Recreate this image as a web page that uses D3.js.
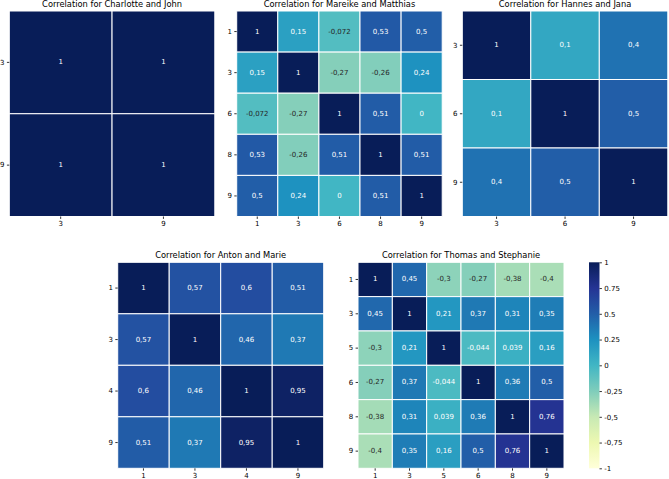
<!DOCTYPE html>
<html lang="en">
<head>
  <meta charset="UTF-8" />
  <title>Correlation heatmaps</title>
  <script src="https://d3js.org/d3.v7.min.js"></script>
  <style>
    body { margin: 0; background: #fff; }
    svg { display: block; font-family: "DejaVu Sans", sans-serif; }
    .title { font-size: 8.3px; text-anchor: middle; fill: #000; }
    .cell-label { font-size: 7px; text-anchor: middle; dominant-baseline: central; }
    .axis text { font-family: "DejaVu Sans", sans-serif; font-size: 7px; fill: #000; }
    .axis line { stroke: #000; stroke-width: 0.8px; }
  </style>
</head>
<body>
  <script>
    // color map (YlGnBu, 9 steps) and its value range
    const cmapColors = ["#ffffd9", "#edf8b1", "#c7e9b4", "#7fcdbb", "#41b6c4", "#1d91c0", "#225ea8", "#253494", "#081d58"];
    const vmin = -1, vmax = 1;

    // colorbar ticks
    const cbTicks = [1, 0.75, 0.5, 0.25, 0, -0.25, -0.5, -0.75, -1];
    const cbLabels = ["1", "0.75", "0.5", "0.25", "0", "-0,25", "-0,5", "-0,75", "-1"];

    // data per pair
    const titleCJ = "Correlation for Charlotte and John";
    const labelsCJ = [3, 9];
    const corrCJ = [
      [1, 1],
      [1, 1]
    ];

    const titleMM = "Correlation for Mareike and Matthias";
    const labelsMM = [1, 3, 6, 8, 9];
    const corrMM = [
      [1, 0.15, -0.072, 0.53, 0.5],
      [0.15, 1, -0.27, -0.26, 0.24],
      [-0.072, -0.27, 1, 0.51, 0],
      [0.53, -0.26, 0.51, 1, 0.51],
      [0.5, 0.24, 0, 0.51, 1]
    ];

    const titleHJ = "Correlation for Hannes and Jana";
    const labelsHJ = [3, 6, 9];
    const corrHJ = [
      [1, 0.1, 0.4],
      [0.1, 1, 0.5],
      [0.4, 0.5, 1]
    ];

    const titleAM = "Correlation for Anton and Marie";
    const labelsAM = [1, 3, 4, 9];
    const corrAM = [
      [1, 0.57, 0.6, 0.51],
      [0.57, 1, 0.46, 0.37],
      [0.6, 0.46, 1, 0.95],
      [0.51, 0.37, 0.95, 1]
    ];

    const titleTS = "Correlation for Thomas and Stephanie";
    const labelsTS = [1, 3, 5, 6, 8, 9];
    const corrTS = [
      [1, 0.45, -0.3, -0.27, -0.38, -0.4],
      [0.45, 1, 0.21, 0.37, 0.31, 0.35],
      [-0.3, 0.21, 1, -0.044, 0.039, 0.16],
      [-0.27, 0.37, -0.044, 1, 0.36, 0.5],
      [-0.38, 0.31, 0.039, 0.36, 1, 0.76],
      [-0.4, 0.35, 0.16, 0.5, 0.76, 1]
    ];

    const width = 669, height = 479;

    // panel placement
    const panels = [
      { title: titleCJ, labels: labelsCJ, values: corrCJ, x: 9.3, y: 11, size: 205.5 },
      { title: titleMM, labels: labelsMM, values: corrMM, x: 236.7, y: 11, size: 205.5 },
      { title: titleHJ, labels: labelsHJ, values: corrHJ, x: 462.3, y: 11, size: 205.5 },
      { title: titleAM, labels: labelsAM, values: corrAM, x: 117.7, y: 262.3, size: 206 },
      { title: titleTS, labels: labelsTS, values: corrTS, x: 358, y: 262.3, size: 206 }
    ];

    const cbar = { x: 589, y: 262.3, w: 10.5, h: 206 };

    const color = d3.scaleLinear()
      .domain(d3.range(cmapColors.length).map(i => vmin + i * (vmax - vmin) / (cmapColors.length - 1)))
      .range(cmapColors)
      .interpolate(d3.interpolateRgb)
      .clamp(true);

    const fmt = d3.formatLocale({ decimal: ",", thousands: ".", grouping: [3], currency: ["", ""], minus: "-" }).format(".2~g");

    // seaborn style text colour choice
    function luminance(c) {
      const rgb = d3.rgb(c);
      const ch = [rgb.r, rgb.g, rgb.b].map(v => {
        v /= 255;
        return v <= 0.03928 ? v / 12.92 : Math.pow((v + 0.055) / 1.055, 2.4);
      });
      return 0.2126 * ch[0] + 0.7152 * ch[1] + 0.0722 * ch[2];
    }

    const svg = d3.select("body").append("svg")
      .attr("width", width)
      .attr("height", height);

    panels.forEach(p => {
      const g = svg.append("g").attr("transform", `translate(${p.x},${p.y})`);
      const xs = d3.scaleBand().domain(p.labels).range([0, p.size]);
      const ys = d3.scaleBand().domain(p.labels).range([0, p.size]);

      const cells = [];
      p.values.forEach((row, r) => row.forEach((v, c) => cells.push({ r, c, v })));

      g.selectAll("rect.cell")
        .data(cells)
        .enter()
        .append("rect")
        .attr("class", "cell")
        .attr("x", d => xs(p.labels[d.c]))
        .attr("y", d => ys(p.labels[d.r]))
        .attr("width", xs.bandwidth())
        .attr("height", ys.bandwidth())
        .attr("fill", d => color(d.v))
        .attr("stroke", "#fff")
        .attr("stroke-width", 1);

      g.selectAll("text.cell-label")
        .data(cells)
        .enter()
        .append("text")
        .attr("class", "cell-label")
        .attr("x", d => xs(p.labels[d.c]) + xs.bandwidth() / 2)
        .attr("y", d => ys(p.labels[d.r]) + ys.bandwidth() / 2)
        .attr("fill", d => luminance(color(d.v)) > 0.408 ? "#262626" : "#fff")
        .text(d => fmt(d.v));

      g.append("g")
        .attr("class", "axis")
        .attr("transform", `translate(0,${p.size})`)
        .call(d3.axisBottom(xs).tickSize(2.4).tickPadding(2.4))
        .call(a => a.select(".domain").remove());

      g.append("g")
        .attr("class", "axis")
        .call(d3.axisLeft(ys).tickSize(2.4).tickPadding(2.4))
        .call(a => a.select(".domain").remove());

      g.append("text")
        .attr("class", "title")
        .attr("x", p.size / 2)
        .attr("y", -4.4)
        .text(p.title);
    });

    // colorbar
    const defs = svg.append("defs");
    const grad = defs.append("linearGradient")
      .attr("id", "cbGrad")
      .attr("x1", 0).attr("y1", 1)
      .attr("x2", 0).attr("y2", 0);
    grad.selectAll("stop")
      .data(cmapColors)
      .enter()
      .append("stop")
      .attr("offset", (d, i) => i / (cmapColors.length - 1))
      .attr("stop-color", d => d);

    svg.append("rect")
      .attr("x", cbar.x)
      .attr("y", cbar.y)
      .attr("width", cbar.w)
      .attr("height", cbar.h)
      .attr("fill", "url(#cbGrad)");

    const cbScale = d3.scaleLinear().domain([vmin, vmax]).range([cbar.y + cbar.h, cbar.y]);
    svg.append("g")
      .attr("class", "axis")
      .attr("transform", `translate(${cbar.x + cbar.w},0)`)
      .call(d3.axisRight(cbScale).tickValues(cbTicks).tickFormat((d, i) => cbLabels[i]).tickSize(2.4).tickPadding(2.4))
      .call(a => a.select(".domain").remove());
  </script>
</body>
</html>
